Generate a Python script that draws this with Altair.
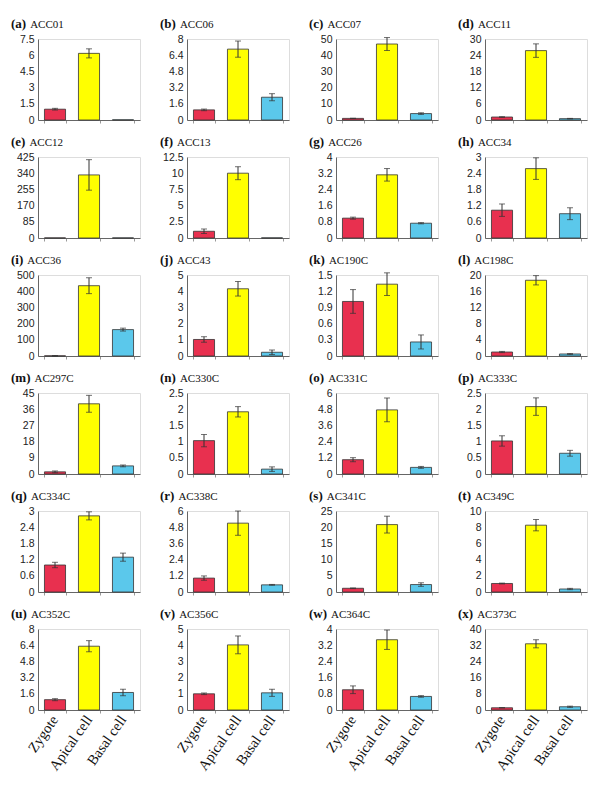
import altair as alt
import pandas as pd

letters = list("abcdefghijklmnopqrstuvwx")
names = ["ACC01", "ACC06", "ACC07", "ACC11", "ACC12", "ACC13", "ACC26", "ACC34",
         "ACC36", "ACC43", "AC190C", "AC198C", "AC297C", "AC330C", "AC331C", "AC333C",
         "AC334C", "AC338C", "AC341C", "AC349C", "AC352C", "AC356C", "AC364C", "AC373C"]
ymax = [7.5, 8, 50, 30, 425, 12.5, 4, 3, 500, 5, 1.5, 20,
        45, 2.5, 6, 2.5, 3, 6, 25, 10, 8, 5, 4, 40]
ystep = [1.5, 1.6, 10, 6, 85, 2.5, 0.8, 0.6, 100, 1, 0.3, 4,
         9, 0.5, 1.2, 0.5, 0.6, 1.2, 5, 2, 1.6, 1, 0.8, 8]
zygote = [1.0, 1.0, 1.0, 1.1, 0.5, 1.04, 0.98, 1.03, 1.0, 1.02, 1.01, 0.98,
          1.2, 1.03, 1.06, 1.02, 1.0, 1.03, 1.15, 1.05, 1.02, 1.0, 1.0, 1.1]
zygote_err = [0.08, 0.08, 0.1, 0.1, 0.0, 0.35, 0.05, 0.23, 2.0, 0.17, 0.22, 0.15,
              0.5, 0.19, 0.15, 0.16, 0.1, 0.16, 0.1, 0.05, 0.1, 0.05, 0.19, 0.05]
apical = [6.17, 7.0, 46.9, 25.7, 331, 10.0, 3.12, 2.57, 434, 4.15, 1.33, 18.7,
          39.0, 1.92, 4.75, 2.08, 2.82, 5.1, 20.8, 8.25, 6.3, 4.02, 3.47, 32.7]
apical_err = [0.42, 0.8, 4.0, 2.5, 80, 1.0, 0.31, 0.4, 49, 0.45, 0.21, 1.15,
              4.7, 0.16, 0.88, 0.27, 0.15, 0.9, 2.6, 0.7, 0.55, 0.55, 0.48, 2.0]
basal = [0.02, 2.25, 3.96, 0.5, 0.5, 0.02, 0.73, 0.9, 163, 0.23, 0.26, 0.5,
         4.5, 0.15, 0.49, 0.64, 1.29, 0.53, 2.3, 0.37, 1.73, 1.06, 0.67, 1.6]
basal_err = [0.0, 0.35, 0.5, 0.1, 0.0, 0.0, 0.03, 0.22, 9, 0.14, 0.13, 0.1,
             0.5, 0.07, 0.07, 0.09, 0.15, 0.03, 0.55, 0.08, 0.32, 0.22, 0.04, 0.3]

cells = ["Zygote", "Apical cell", "Basal cell"]
colors = ["#E8304F", "#FFFF00", "#5BC8EB"]

# approximate advance widths (per 1000 em) of Liberation Serif Bold, for title layout
BOLD_W = {"(": 333, ")": 333, "a": 500, "b": 556, "c": 444, "d": 556, "e": 444, "f": 333,
          "g": 500, "h": 556, "i": 278, "j": 333, "k": 556, "l": 278, "m": 833, "n": 556,
          "o": 500, "p": 556, "q": 556, "r": 444, "s": 389, "t": 333, "u": 556, "v": 500,
          "w": 722, "x": 500}
LETTER_FS = 13
NAME_FS = 11
PW, PH = 102, 81
TX = -27
TY = -11


def panel(i, bottom):
    df = pd.DataFrame({
        "cell": cells,
        "value": [zygote[i], apical[i], basal[i]],
        "err": [zygote_err[i], apical_err[i], basal_err[i]],
    })
    df["lo"] = df["value"] - df["err"]
    df["hi"] = df["value"] + df["err"]
    tickvals = [round(ystep[i] * k, 2) for k in range(6)]

    xaxis = alt.Axis(
        title=None, labels=bottom, ticks=True, tickBand="extent", tickSize=3,
        tickColor="#999", domainColor="#666", labelAngle=-55,
        labelFont="Liberation Serif", labelFontSize=14.5, labelColor="#111",
        labelPadding=4, labelAlign="right", labelBaseline="middle",
    )
    x = alt.X("cell:N", sort=cells,
              scale=alt.Scale(paddingInner=0.38, paddingOuter=0.19), axis=xaxis)
    yscale = alt.Scale(domain=[0, ymax[i]], nice=False, zero=True)
    yaxis = alt.Axis(
        title=None, values=tickvals, labelExpr="'' + datum.value", grid=False, ticks=False,
        domainColor="#666", labelFont="Liberation Sans", labelFontSize=10.5,
        labelColor="#222", labelPadding=4, minExtent=24, maxExtent=24,
    )

    bars = alt.Chart(df).mark_bar(stroke="#333", strokeWidth=0.8).encode(
        x=x,
        y=alt.Y("value:Q", scale=yscale, axis=yaxis),
        color=alt.Color("cell:N", scale=alt.Scale(domain=cells, range=colors), legend=None),
    )
    edf = df[df["err"] > 0]
    rules = alt.Chart(edf).mark_rule(color="#333", strokeWidth=1).encode(
        x=alt.X("cell:N", sort=cells), y=alt.Y("lo:Q", scale=yscale, axis=yaxis), y2="hi:Q")
    cap_hi = alt.Chart(edf).mark_tick(color="#333", thickness=1, size=6).encode(
        x=alt.X("cell:N", sort=cells), y=alt.Y("hi:Q", scale=yscale, axis=yaxis))
    cap_lo = alt.Chart(edf).mark_tick(color="#333", thickness=1, size=6).encode(
        x=alt.X("cell:N", sort=cells), y=alt.Y("lo:Q", scale=yscale, axis=yaxis))

    lab = "(" + letters[i] + ")"
    lw = sum(BOLD_W[c] for c in lab) * LETTER_FS / 1000.0
    tdf = pd.DataFrame({"letter": [lab], "name": [names[i]]})
    t1 = alt.Chart(tdf).mark_text(
        font="Liberation Serif", fontWeight="bold", fontSize=LETTER_FS,
        align="left", baseline="alphabetic", color="#111",
    ).encode(x=alt.value(TX), y=alt.value(TY), text="letter:N")
    t2 = alt.Chart(tdf).mark_text(
        font="Liberation Serif", fontSize=NAME_FS,
        align="left", baseline="alphabetic", color="#111",
    ).encode(x=alt.value(TX + lw + 4), y=alt.value(TY), text="name:N")

    return alt.layer(bars, rules, cap_hi, cap_lo, t1, t2).properties(width=PW, height=PH)


rows = []
for r in range(6):
    rows.append(alt.hconcat(*[panel(r * 4 + c, r == 5) for c in range(4)], spacing=18))

chart = alt.vconcat(*rows, spacing=9).properties(
    padding={"left": 2, "top": 9, "right": 2, "bottom": 2}
).configure_view(stroke="#9a9a9a", strokeWidth=1).configure(background="white")

chart.save("out.html", embed_options={"renderer": "svg", "actions": False})
